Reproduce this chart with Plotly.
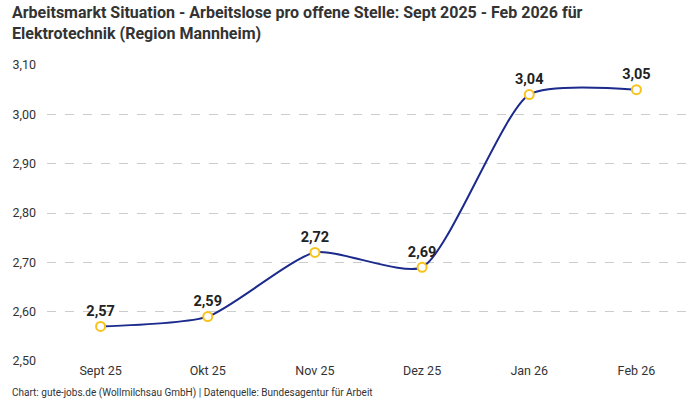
import plotly.graph_objects as go

# Data
months = ["Sept 25", "Okt 25", "Nov 25", "Dez 25", "Jan 26", "Feb 26"]
ratio = [2.57, 2.59, 2.72, 2.69, 3.04, 3.05]
labels = [f"{v:.2f}".replace(".", ",") for v in ratio]
y_ticks = [2.5, 2.6, 2.7, 2.8, 2.9, 3.0, 3.1]
y_ticktext = [f"{v:.2f}".replace(".", ",") for v in y_ticks]

title = ("<b>Arbeitsmarkt Situation - Arbeitslose pro offene Stelle: Sept 2025 - Feb 2026 für<br>"
         "Elektrotechnik (Region Mannheim)</b>")
source = "Chart: gute-jobs.de (Wollmilchsau GmbH) | Datenquelle: Bundesagentur für Arbeit"

fig = go.Figure()
fig.add_trace(go.Scatter(
    x=months, y=ratio,
    mode="lines+markers+text",
    line=dict(color="#1b2a8c", width=2, shape="spline", smoothing=0.6),
    marker=dict(size=9, color="white", line=dict(color="#f7c31b", width=2)),
    text=[f"<b>{t}</b>" for t in labels],
    textposition="top center",
    textfont=dict(size=14.5, color="#222222", family="Roboto"),
    cliponaxis=False,
    hoverinfo="skip",
))

fig.update_layout(
    width=700, height=400,
    margin=dict(l=47, r=10, t=65, b=39),
    plot_bgcolor="white", paper_bgcolor="white",
    font=dict(family="Roboto", size=12.5, color="#333333"),
    showlegend=False,
)
fig.update_xaxes(showgrid=False, showline=False, ticks="", range=[-0.5, 5.5])
fig.update_yaxes(range=[2.5, 3.1], tickvals=y_ticks, ticktext=y_ticktext,
                 showgrid=True, gridcolor="#cccccc", griddash="dash", gridwidth=1,
                 zeroline=False, showline=False, ticks="", ticklabelstandoff=10)

# title and source as annotations (multi-line title placement)
fig.add_annotation(text=title, xref="paper", yref="paper", x=-0.0575, y=1.216,
                   xanchor="left", yanchor="top", align="left", showarrow=False,
                   font=dict(size=16, color="#333333"))
fig.add_annotation(text=source, xref="paper", yref="paper", x=-0.0575, y=-0.108,
                   xanchor="left", yanchor="middle", showarrow=False,
                   font=dict(size=10, color="#333333"))

fig.write_html("out.html", config={"displayModeBar": False},
               post_script="document.body.style.margin='0';")
